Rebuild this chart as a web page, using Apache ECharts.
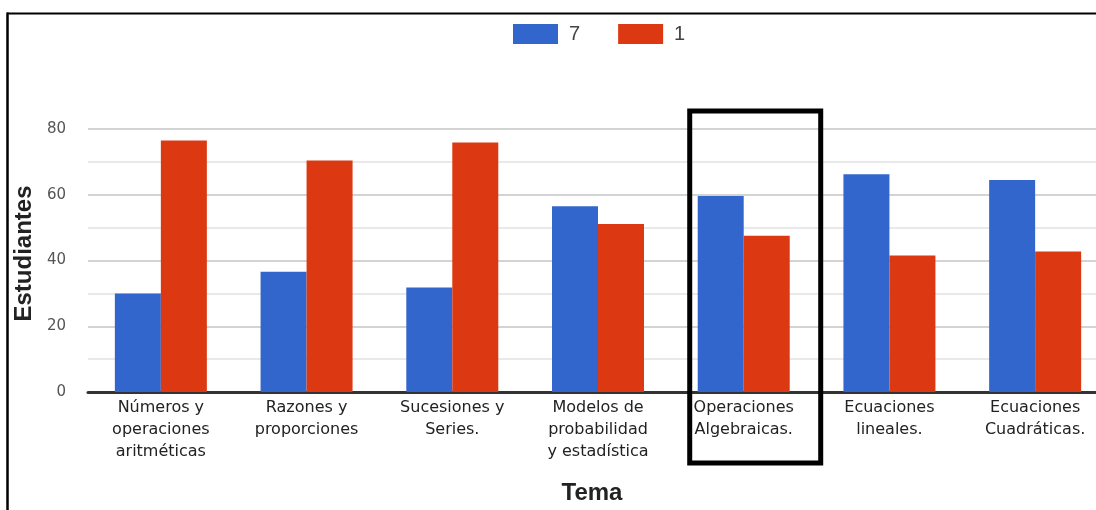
<!DOCTYPE html>
<html>
<head>
<meta charset="utf-8">
<script src="https://cdn.jsdelivr.net/npm/echarts@6/dist/echarts.min.js"></script>
<style>
  html, body { margin: 0; padding: 0; background: #fff; overflow: hidden; }
  #chart { width: 1108px; height: 510px; }
</style>
</head>
<body>
<div id="chart"></div>
<script>
// Temas evaluados
const categories = [
  'Números y\noperaciones\naritméticas',
  'Razones y\nproporciones',
  'Sucesiones y\nSeries.',
  'Modelos de\nprobabilidad\ny estadística',
  'Operaciones\nAlgebraicas.',
  'Ecuaciones\nlineales.',
  'Ecuaciones\nCuadráticas.'
];
// Estudiantes por nivel
const seriesNames = ['7', '1'];
const values7 = [30, 36.6, 31.8, 56.5, 59.6, 66.2, 64.5];
const values1 = [76.5, 70.4, 75.9, 51.1, 47.5, 41.5, 42.7];
// Eje vertical
const yTicks = [0, 20, 40, 60, 80];
const highlighted = 4; // Operaciones Algebraicas.

const chart = echarts.init(document.getElementById('chart'));
const labelFont = 'DejaVu Sans, Verdana, sans-serif';
const titleFont = 'Liberation Sans, Arial, sans-serif';

chart.setOption({
  animation: false,
  color: ['#3366cc', '#dc3912'],
  legend: {
    left: 508,
    top: 19,
    itemWidth: 45,
    itemHeight: 20,
    itemGap: 38,
    icon: 'rect',
    data: seriesNames,
    textStyle: { fontFamily: titleFont, fontSize: 20, color: '#444', padding: [0, 0, 0, 6] }
  },
  grid: { left: 88, top: 129, width: 1020, height: 265 },
  xAxis: {
    type: 'category',
    data: categories,
    name: 'Tema',
    nameLocation: 'middle',
    nameGap: 89,
    nameTextStyle: { fontFamily: titleFont, fontSize: 24, fontWeight: 'bold', color: '#222', padding: [0, 12, 0, 0] },
    axisLine: { lineStyle: { color: '#333', width: 3 } },
    axisTick: { show: false },
    axisLabel: {
      interval: 0,
      margin: 5,
      fontFamily: labelFont,
      fontSize: 16,
      lineHeight: 22,
      color: '#222'
    }
  },
  yAxis: {
    type: 'value',
    min: yTicks[0],
    max: yTicks[yTicks.length - 1],
    interval: 20,
    name: 'Estudiantes',
    nameLocation: 'middle',
    nameGap: 52,
    nameTextStyle: { fontFamily: titleFont, fontSize: 24, fontWeight: 'bold', color: '#222', padding: [0, 0, 0, 14] },
    axisLine: { show: false },
    axisTick: { show: false },
    axisLabel: { margin: 22, fontFamily: labelFont, fontSize: 15, color: '#555' },
    splitLine: { lineStyle: { color: '#c4c4c4', width: 1.5 } },
    minorTick: { show: false, splitNumber: 2 },
    minorSplitLine: { show: true, lineStyle: { color: '#e2e2e2', width: 1.5 } }
  },
  series: [
    { name: seriesNames[0], type: 'bar', data: values7, barWidth: 46, barGap: '0%' },
    { name: seriesNames[1], type: 'bar', data: values1, barWidth: 46, barGap: '0%' }
  ]
});

// Marco y recuadro de resalte
const cx = chart.convertToPixel({ xAxisIndex: 0 }, highlighted);
chart.setOption({
  graphic: [
    { type: 'line', shape: { x1: 7, y1: 13.5, x2: 1108, y2: 13.5 }, style: { stroke: '#000', lineWidth: 2 } },
    { type: 'line', shape: { x1: 7.5, y1: 12.5, x2: 7.5, y2: 510 }, style: { stroke: '#000', lineWidth: 2.5 } },
    {
      type: 'rect',
      shape: { x: cx - 54, y: 111, width: 131, height: 352 },
      style: { fill: 'none', stroke: '#000', lineWidth: 5 },
      z: 100
    }
  ]
});
</script>
</body>
</html>
